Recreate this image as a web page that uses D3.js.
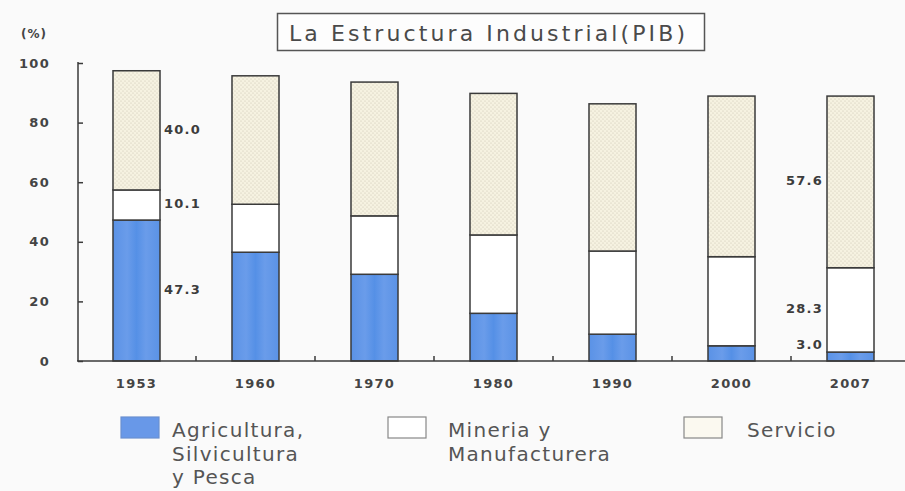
<!DOCTYPE html>
<html>
<head>
<meta charset="utf-8">
<script src="https://cdn.jsdelivr.net/npm/d3@7"></script>
<style>
html,body{margin:0;padding:0;background:#fafafa;}
svg{display:block;}
</style>
</head>
<body>
<svg id="chart" width="905" height="491"></svg>
<script>
const years = ["1953","1960","1970","1980","1990","2000","2007"];
const agricultura = [47.3, 36.5, 29.1, 16.0, 9.0, 5.1, 3.0];
const mineria = [10.1, 16.1, 19.6, 26.3, 27.9, 29.9, 28.3];
const servicio = [40.0, 43.1, 44.9, 47.5, 49.4, 53.9, 57.6];
const yTicks = [0, 20, 40, 60, 80, 100];
const seriesNames = ["Agricultura,\nSilvicultura\ny Pesca", "Mineria y\nManufacturera", "Servicio"];
const title = "La Estructura Industrial(PIB)";

const svg = d3.select("#chart");
const defs = svg.append("defs");
const pat = defs.append("pattern").attr("id","dots").attr("width",4).attr("height",4).attr("patternUnits","userSpaceOnUse");
pat.append("rect").attr("width",4).attr("height",4).attr("fill","#f6f2e1");
pat.append("circle").attr("cx",1).attr("cy",1).attr("r",0.6).attr("fill","#c9c4b0");
pat.append("circle").attr("cx",3).attr("cy",3).attr("r",0.6).attr("fill","#c9c4b0");
const grad = defs.append("linearGradient").attr("id","blue").attr("x1",0).attr("x2",1).attr("y1",0).attr("y2",0);
[[0,"#5a92e6"],[0.3,"#6a9cea"],[0.5,"#5590e6"],[0.7,"#6a9cea"],[1,"#5a92e6"]].forEach(s=>grad.append("stop").attr("offset",s[0]).attr("stop-color",s[1]));

const y = d3.scaleLinear().domain([0,100]).range([361,63]);
const x = d3.scaleBand().domain(years).range([77,910]).padding(0);
const bw = x.bandwidth();
const barW = bw*0.395;
const barX = d => x(d) + (bw-barW)/2;
const stroke = "#3a3a3a";

const data = years.map((yr,i)=>({year:yr, a:agricultura[i], m:mineria[i], s:servicio[i]}));
const stack = d3.stack().keys(["a","m","s"])(data);
const fills = {a:"url(#blue)", m:"#ffffff", s:"url(#dots)"};

stack.forEach(layer=>{
  svg.append("g").selectAll("rect").data(layer).join("rect")
    .attr("x", d=>barX(d.data.year))
    .attr("y", d=>y(d[1]))
    .attr("width", barW)
    .attr("height", d=>y(d[0])-y(d[1]))
    .attr("fill", fills[layer.key])
    .attr("stroke", stroke)
    .attr("stroke-width", 1.5);
});

const tickFont = sel => sel.attr("font-family","DejaVu Sans").attr("font-weight","bold").attr("font-size",13).attr("letter-spacing",1.3).attr("fill","#444");

// y axis
const yAxis = d3.axisLeft(y).tickValues(yTicks).tickSize(-5).tickPadding(28);
const gy = svg.append("g").attr("transform","translate(78,0)").call(yAxis);
gy.select(".domain").remove();
gy.append("line").attr("x1",0).attr("x2",0).attr("y1",y(0)).attr("y2",62).attr("stroke",stroke).attr("stroke-width",1.5);
gy.selectAll(".tick line").attr("stroke",stroke).attr("stroke-width",1.5);
gy.selectAll(".tick text").call(tickFont);

svg.append("text").attr("x",21).attr("y",38).text("(%)")
  .attr("font-family","DejaVu Sans").attr("font-weight","bold").attr("font-size",12).attr("letter-spacing",1).attr("fill","#444");

// x axis
const xAxis = d3.axisBottom(x).tickSize(0).tickPadding(0);
const gx = svg.append("g").attr("transform","translate(0,361)").call(xAxis);
gx.select(".domain").remove();
gx.append("line").attr("x1",77).attr("x2",905).attr("y1",0).attr("y2",0).attr("stroke",stroke).attr("stroke-width",1.5);
gx.selectAll(".tick text").attr("dy",null).attr("y",27).call(tickFont);
gx.selectAll("line.sep").data(years.slice(1)).join("line").attr("class","sep")
  .attr("x1",d=>x(d)).attr("x2",d=>x(d)).attr("y1",0).attr("y2",-5).attr("stroke",stroke).attr("stroke-width",1.5);

// value labels
const lblFont = g => g.attr("font-family","DejaVu Sans").attr("font-weight","bold").attr("font-size",13).attr("letter-spacing",1.2).attr("fill","#3c3c3c").attr("dominant-baseline","middle");
const first = stack.map(l=>l[0]);
svg.append("g").selectAll("text").data(first).join("text")
  .attr("x", barX(years[0]) + barW + 4)
  .attr("y", d=> Math.min(y((d[0]+d[1])/2), y(0)-16))
  .text(d=>d3.format(".1f")(d[1]-d[0]))
  .call(lblFont);
const last = stack.map(l=>l[years.length-1]);
svg.append("g").selectAll("text").data(last).join("text")
  .attr("x", barX(years[years.length-1]) - 4)
  .attr("text-anchor","end")
  .attr("y", d=> Math.min(y((d[0]+d[1])/2), y(0)-16))
  .text(d=>d3.format(".1f")(d[1]-d[0]))
  .call(lblFont);

// title
svg.append("rect").attr("x",277.5).attr("y",13.5).attr("width",427).attr("height",37)
  .attr("fill","#fdfdfd").attr("stroke","#555").attr("stroke-width",1.5);
svg.append("text").attr("x",289).attr("y",41).text(title)
  .attr("font-family","DejaVu Sans").attr("font-size",22).attr("fill","#4a4a4a")
  .attr("textLength",396).attr("lengthAdjust","spacing");

// legend
const legX = [121, 388, 684];
const legTextX = [172, 448, 747];
const legFill = ["#6898e8", "#ffffff", "#fbf9f0"];
const leg = svg.append("g").selectAll("g").data(seriesNames).join("g");
leg.append("rect").attr("x",(d,i)=>legX[i]).attr("y",417).attr("width",38).attr("height",21)
  .attr("fill",(d,i)=>legFill[i]).attr("stroke",(d,i)=> i===0 ? "#6a8fd0" : "#888").attr("stroke-width",1.2);
leg.append("text").attr("y",437).attr("font-family","DejaVu Sans").attr("font-size",20).attr("fill","#555")
  .attr("letter-spacing",1.3)
  .each(function(d,i){
    const t = d3.select(this);
    d.split("\n").forEach((line,k)=>{
      t.append("tspan").attr("x",legTextX[i]).attr("dy", k===0?0:23.5).text(line);
    });
  });
</script>
</body>
</html>
